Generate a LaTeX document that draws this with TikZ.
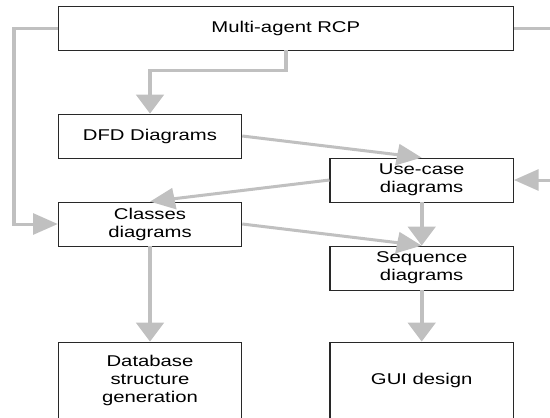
\documentclass[tikz,border=0pt]{standalone}
\usepackage{fontspec}
\setmainfont{Liberation Sans}
\usetikzlibrary{arrows.meta}
\definecolor{linegray}{RGB}{192,192,192}
\definecolor{edgecol}{RGB}{40,40,40}
\begin{document}
\begin{tikzpicture}[x=1pt,y=-1pt]
\useasboundingbox (0,0) rectangle (550,418);
\clip (0,0) rectangle (550,418);
\begin{scope}[transform canvas={xscale=1.3}, x=0.769231pt, y=-1pt,
  box/.style={draw=edgecol, line width=0.8pt, fill=white, align=center, inner sep=0pt,
    font=\fontsize{15.6pt}{18pt}\selectfont, minimum height=44pt},
  smallbox/.style={box, minimum width=141.1pt},
  tallbox/.style={smallbox, minimum height=77pt},
  conn/.style={draw=linegray, line width=3pt, -{Triangle[length=19pt,width=21pt]}}]
  \node[box, minimum width=350pt] (rcp) at (285.8,28) {Multi-agent RCP};
  \node[smallbox] (dfd) at (150,136) {DFD Diagrams};
  \node[smallbox] (use) at (421.7,180) {Use-case\\diagrams};
  \node[smallbox] (cls) at (150,224) {Classes\\diagrams};
  \node[smallbox] (seq) at (421.7,268) {Sequence\\diagrams};
  \node[tallbox] (db) at (150,380.5) {Database\\structure\\generation};
  \node[tallbox] (gui) at (421.7,380.5) {GUI design};
  \coordinate (lft) at (14,0);
  \coordinate (rgt) at (575,0);
  \draw[conn] (rcp.south) -- ++(0,20) -| (dfd.north);
  \draw[conn] (rcp.west) -- (rcp.west -| lft) |- (cls.west);
  \draw[conn] (rcp.east) -- (rcp.east -| rgt) |- (use.east);
  \draw[conn] (dfd.east) -- (use.north);
  \draw[conn] (use.west) -- (cls.north);
  \draw[conn] (cls.east) -- (seq.north);
  \draw[conn] (use.south) -- (seq.north);
  \draw[conn] (cls.south) -- (db.north);
  \draw[conn] (seq.south) -- (gui.north);
\end{scope}
\end{tikzpicture}
\end{document}
